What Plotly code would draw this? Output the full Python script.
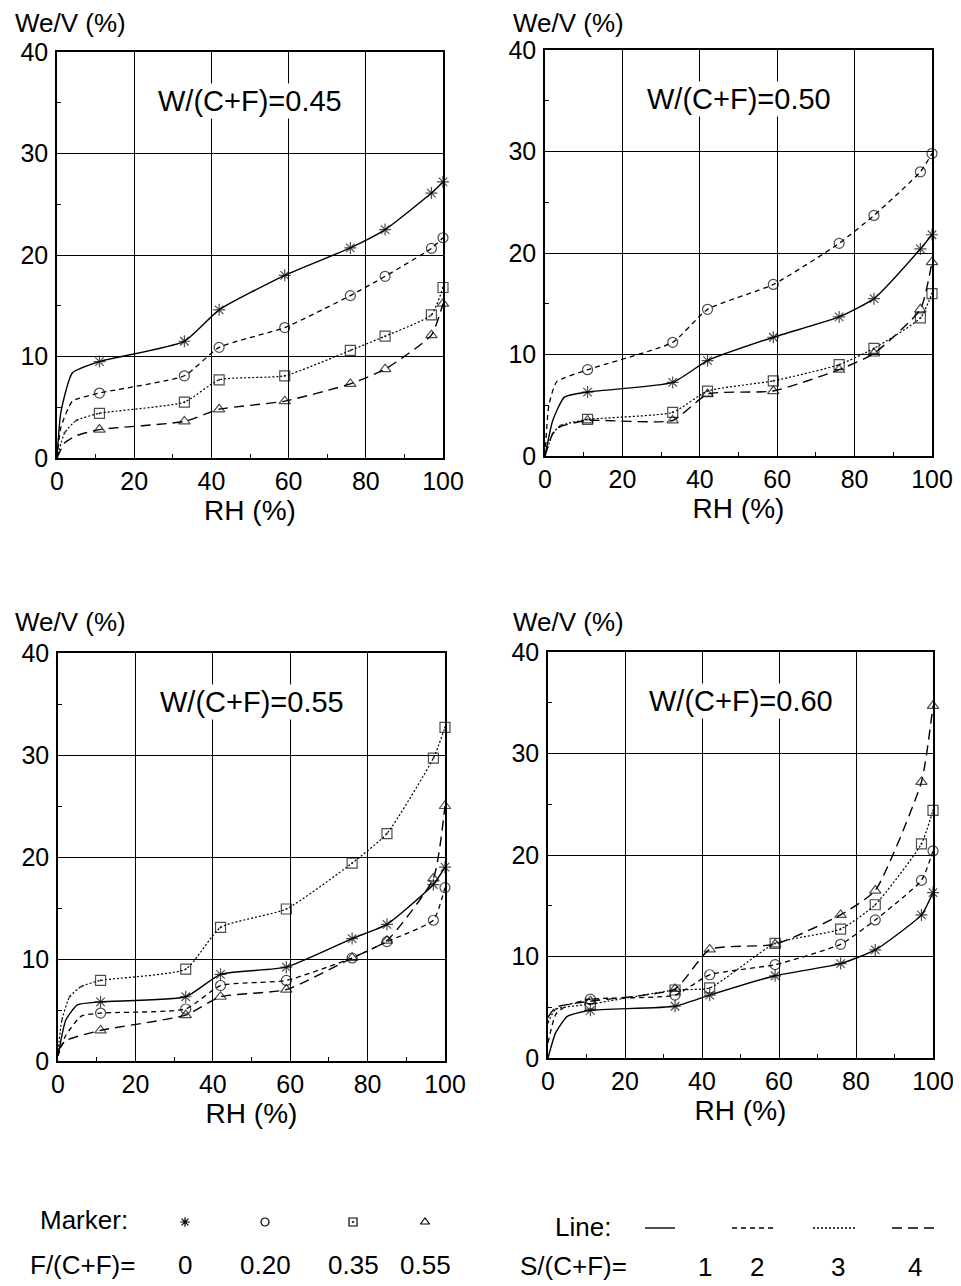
import plotly.graph_objects as go

# ---------------- data ----------------
RH = [11, 33, 42, 59, 76, 85, 97, 100]
panels = ["W/(C+F)=0.45", "W/(C+F)=0.50", "W/(C+F)=0.55", "W/(C+F)=0.60"]

# measured values: star(F=0,S=1), circle(F=0.20,S=2), square(F=0.35,S=3), triangle(F=0.55,S=4)
p45_star = [9.5, 11.5, 14.6, 18.0, 20.7, 22.5, 26.1, 27.2]
p45_circ = [6.4, 8.1, 10.9, 12.85, 16.0, 17.9, 20.65, 21.7]
p45_sq = [4.4, 5.5, 7.7, 8.1, 10.6, 12.0, 14.1, 16.8]
p45_tri = [2.8, 3.6, 4.8, 5.6, 7.3, 8.75, 12.1, 15.2]

p50_star = [6.3, 7.25, 9.4, 11.7, 13.7, 15.5, 20.4, 21.8]
p50_circ = [8.5, 11.2, 14.45, 16.9, 20.95, 23.7, 28.0, 29.8]
p50_sq = [3.6, 4.3, 6.4, 7.4, 9.0, 10.6, 13.6, 16.0]
p50_tri = [3.5, 3.5, 6.1, 6.4, 8.5, 10.1, 14.45, 19.1]

p55_star = [5.8, 6.3, 8.5, 9.2, 12.0, 13.4, 17.3, 19.0]
p55_circ = [4.7, 5.1, 7.4, 7.9, 10.1, 11.7, 13.8, 17.0]
p55_sq = [7.9, 9.0, 13.1, 14.9, 19.4, 22.3, 29.7, 32.7]
p55_tri = [3.0, 4.5, 6.3, 7.0, 10.1, 11.8, 17.9, 25.0]

p60_star = [4.7, 5.1, 6.2, 8.1, 9.3, 10.65, 14.1, 16.3]
p60_circ = [5.8, 6.2, 8.2, 9.2, 11.2, 13.6, 17.5, 20.4]
p60_sq = [5.3, 6.7, 6.9, 11.3, 12.7, 15.1, 21.1, 24.4]
p60_tri = [5.6, 6.8, 10.7, 11.2, 14.1, 16.5, 27.2, 34.7]

# low-RH portion of each curve (no markers)
start_rh = {
    (0, 0): [0, 1, 4], (0, 1): [0, 1, 4], (0, 2): [0, 2, 5], (0, 3): [0, 2, 5],
    (1, 0): [0, 2, 5], (1, 1): [0, 1, 3], (1, 2): [0, 2, 4], (1, 3): [0, 2, 4],
    (2, 0): [0, 2, 5], (2, 1): [0, 2, 6], (2, 2): [0, 1, 3, 6], (2, 3): [0, 2],
    (3, 0): [0, 2, 5], (3, 1): [0, 2, 5], (3, 2): [0, 2], (3, 3): [0, 2],
}
start_we = {
    (0, 0): [0, 4.5, 8.4], (0, 1): [0, 3.0, 5.6], (0, 2): [0, 2.5, 3.7], (0, 3): [0, 1.5, 2.2],
    (1, 0): [0, 3.5, 5.8], (1, 1): [0, 5.0, 7.3], (1, 2): [0, 2.2, 3.0], (1, 3): [0, 2.2, 2.9],
    (2, 0): [0.5, 4.0, 5.5], (2, 1): [0.5, 2.5, 4.4], (2, 2): [1.0, 4.0, 6.3, 7.3], (2, 3): [1.0, 2.0],
    (3, 0): [0, 2.5, 4.1], (3, 1): [1.5, 4.3, 5.2], (3, 2): [3.5, 4.8], (3, 3): [4.0, 5.0],
}

series = [
    [p45_star, p45_circ, p45_sq, p45_tri],
    [p50_star, p50_circ, p50_sq, p50_tri],
    [p55_star, p55_circ, p55_sq, p55_tri],
    [p60_star, p60_circ, p60_sq, p60_tri],
]

symbols = ["asterisk-open", "circle-open", "square-open-dot", "triangle-up-open"]
dashes = ["solid", "5px,4px", "2px,2px", "10px,6px"]
line_widths = [1.4, 1.3, 1.2, 1.4]

F_labels = ["0", "0.20", "0.35", "0.55"]
S_labels = ["1", "2", "3", "4"]

# ---------------- layout geometry ----------------
PAGE_W, PAGE_H = 961, 1286
OFF = 8  # default body margin of the page
W, H = PAGE_W - OFF, PAGE_H - OFF

def px(x):
    return (x - OFF) / W

def py(y):
    return 1 - (y - OFF) / H

boxes = [  # left, right, top, bottom in page pixels
    (57, 443, 52, 458),
    (545, 932, 50, 456),
    (58, 445, 653, 1061),
    (548, 933, 652, 1058),
]
ylab_pos = [(13, 23), (511, 23), (13, 622), (511, 622)]

FONT = "Liberation Sans, Arial, Helvetica, sans-serif"

fig = go.Figure()
layout = dict(
    width=W, height=H, margin=dict(l=0, r=0, t=0, b=0, autoexpand=False),
    paper_bgcolor="white", plot_bgcolor="white", showlegend=False,
    font=dict(family=FONT, color="black", size=24),
)
annotations = []

for i, (l, r, t, b) in enumerate(boxes):
    ax = "" if i == 0 else str(i + 1)
    xd = [px(l), px(r)]
    yd = [py(b), py(t)]
    layout["xaxis" + ax] = dict(
        domain=xd, range=[0, 100], anchor="y" + ax, dtick=20, tick0=0,
        showgrid=True, gridcolor="black", gridwidth=1.2, zeroline=False,
        showline=True, mirror=True, linecolor="black", linewidth=1.6,
        ticks="", tickfont=dict(size=25, family=FONT, color="black"),
        ticklabelstandoff=0, automargin=False,
        minor=dict(ticks="inside", ticklen=4, tickcolor="black", dtick=10, showgrid=False),
        title=dict(text="RH (%)", font=dict(size=28, family=FONT), standoff=6),
        fixedrange=True,
    )
    layout["yaxis" + ax] = dict(
        domain=yd, range=[0, 40], anchor="x" + ax, dtick=10, tick0=0,
        showgrid=True, gridcolor="black", gridwidth=1.2, zeroline=False,
        showline=True, mirror=True, linecolor="black", linewidth=1.6,
        ticks="", tickfont=dict(size=25, family=FONT, color="black"),
        ticklabelstandoff=2, automargin=False,
        minor=dict(ticks="inside", ticklen=4, tickcolor="black", dtick=5, showgrid=False),
        fixedrange=True,
    )
    annotations.append(dict(
        x=50, y=35.2, xref="x" + ax, yref="y" + ax, text=panels[i], showarrow=False,
        font=dict(size=29, family=FONT, color="black"), bgcolor="white",
    ))
    annotations.append(dict(
        x=px(ylab_pos[i][0]), y=py(ylab_pos[i][1]), xref="paper", yref="paper",
        xanchor="left", yanchor="middle", text="We/V (%)", showarrow=False,
        font=dict(size=26, family=FONT, color="black"),
    ))
    for k in range(4):
        sx = start_rh[(i, k)]
        sy = start_we[(i, k)]
        xs = sx + RH
        ys = sy + series[i][k]
        sizes = [0] * len(sx) + [10] * len(RH)
        fig.add_trace(go.Scatter(
            x=xs, y=ys, xaxis="x" + ax, yaxis="y" + ax, mode="lines+markers",
            line=dict(color="black", width=line_widths[k], dash=dashes[k], shape="spline", smoothing=0.5),
            marker=dict(symbol=symbols[k], size=sizes, color="black", line=dict(color="black", width=1.2)),
            cliponaxis=False,
        ))

# ---------------- bottom key ----------------
KEY_TOP = 1160
layout["xaxis5"] = dict(domain=[0, 1], range=[OFF, PAGE_W], anchor="y5", visible=False, fixedrange=True)
layout["yaxis5"] = dict(domain=[0, py(KEY_TOP)], range=[PAGE_H, KEY_TOP], anchor="x5", visible=False, fixedrange=True)

key_marker_x = [185, 265, 353, 425]
key_marker_y = 1222
key_line_x = [(645, 675), (732, 775), (813, 857), (892, 935)]
key_line_y = 1228
for k in range(4):
    fig.add_trace(go.Scatter(
        x=[key_marker_x[k]], y=[key_marker_y], xaxis="x5", yaxis="y5", mode="markers",
        marker=dict(symbol=symbols[k], size=8, color="black", line=dict(color="black", width=1.2)),
        cliponaxis=False,
    ))
    fig.add_trace(go.Scatter(
        x=list(key_line_x[k]), y=[key_line_y, key_line_y], xaxis="x5", yaxis="y5", mode="lines",
        line=dict(color="black", width=1.4, dash=dashes[k]), cliponaxis=False,
    ))

def paper_txt(x, y, text, anchor="left"):
    return dict(x=px(x), y=py(y), xref="paper", yref="paper", xanchor=anchor,
                yanchor="middle", text=text, showarrow=False,
                font=dict(size=26, family=FONT, color="black"))

annotations.append(paper_txt(38, 1220, "Marker:"))
annotations.append(paper_txt(28, 1265, "F/(C+F)="))
for k in range(4):
    annotations.append(paper_txt(key_marker_x[k], 1265, F_labels[k], "center"))
annotations.append(paper_txt(553, 1227, "Line:"))
annotations.append(paper_txt(518, 1266, "S/(C+F)="))
S_x = [705, 757, 838, 915]
for k in range(4):
    annotations.append(paper_txt(S_x[k], 1267, S_labels[k], "center"))

layout["annotations"] = annotations
fig.update_layout(**layout)
fig.write_html("out.html")
